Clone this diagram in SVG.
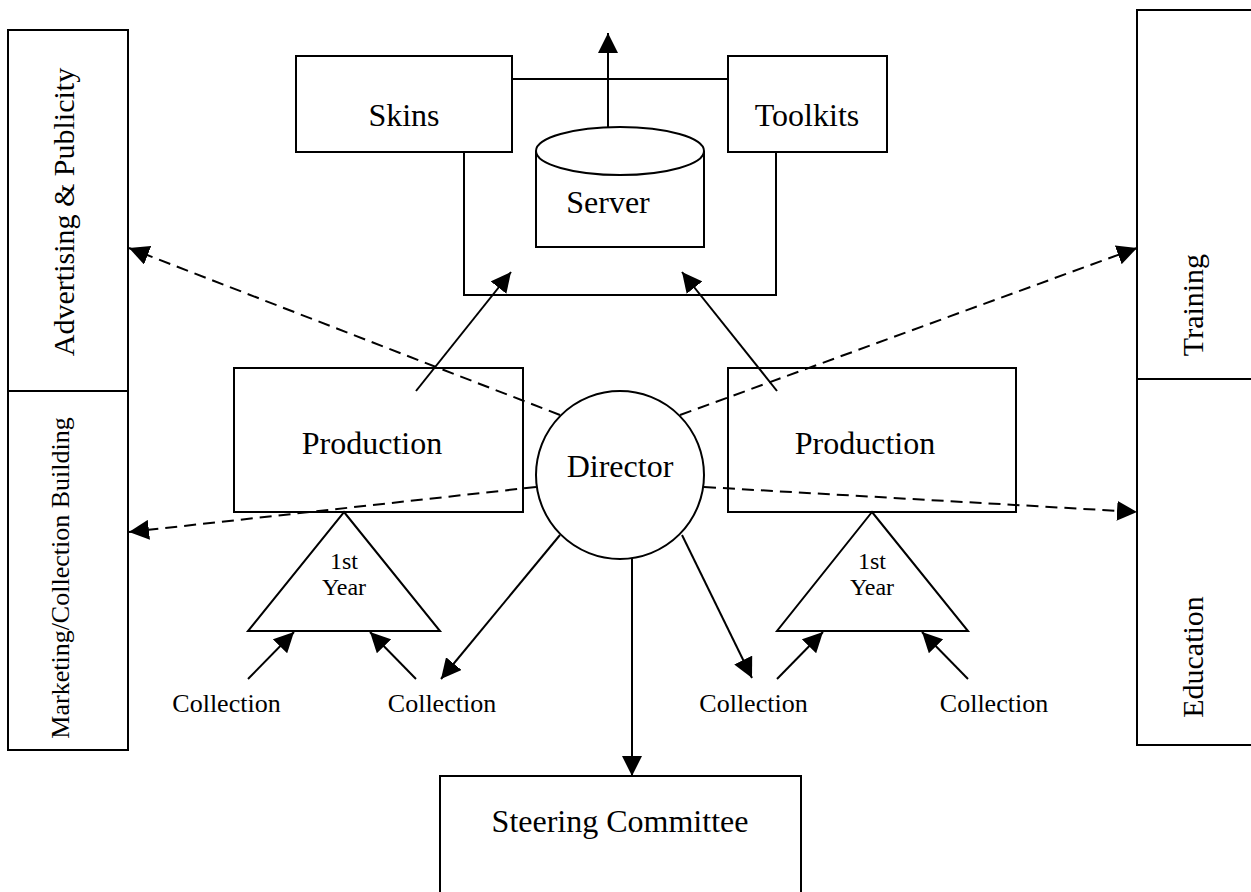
<svg xmlns="http://www.w3.org/2000/svg" width="1251" height="892" viewBox="0 0 1251 892">
<defs>
<marker id="ah" markerUnits="userSpaceOnUse" markerWidth="20" markerHeight="20" refX="20" refY="10" orient="auto">
<path d="M0,0 L20,10 L0,20 Z" fill="#000"/>
</marker>
<style>
.box{fill:#fff;stroke:#000;stroke-width:2}
.ln{fill:none;stroke:#000;stroke-width:2}
.ds{fill:none;stroke:#000;stroke-width:2;stroke-dasharray:12 7}
.t{font-family:"Liberation Serif","Times New Roman",serif;fill:#000;text-anchor:middle}
.big{font-size:32px}
.mid{font-size:26px}
.sm{font-size:24px}
</style>
</defs>
<rect width="1251" height="892" fill="#fff"/>

<g id="advertising">
<rect class="box" x="8" y="30" width="120" height="361"/>
<text class="t" font-size="30" transform="translate(74,212) rotate(-90)">Advertising &amp; Publicity</text>
</g>
<g id="marketing">
<rect class="box" x="8" y="391" width="120" height="359"/>
<text class="t mid" transform="translate(69,578) rotate(-90)">Marketing/Collection Building</text>
</g>
<g id="training">
<rect class="box" x="1137" y="10" width="130" height="369"/>
<text class="t" font-size="30" transform="translate(1203,305) rotate(-90)">Training</text>
</g>
<g id="education">
<rect class="box" x="1137" y="379" width="130" height="366"/>
<text class="t" font-size="30" transform="translate(1203,657) rotate(-90)">Education</text>
</g>

<g id="frame">
<path class="ln" d="M464,152 L464,295 L776,295 L776,152"/>
<line class="ln" x1="512" y1="79" x2="728" y2="79"/>
</g>
<g id="skins">
<rect class="box" x="296" y="56" width="216" height="96"/>
<text class="t big" x="404" y="126">Skins</text>
</g>
<g id="toolkits">
<rect class="box" x="728" y="56" width="159" height="96"/>
<text class="t big" x="807" y="126">Toolkits</text>
</g>
<g id="server">
<path class="box" d="M536,151 L536,247 L704,247 L704,151"/>
<ellipse class="box" cx="620" cy="151" rx="84" ry="24"/>
<text class="t big" x="608" y="213">Server</text>
</g>

<g id="production-left">
<rect class="box" x="234" y="368" width="289" height="144"/>
<text class="t big" x="372" y="454">Production</text>
</g>
<g id="production-right">
<rect class="box" x="728" y="368" width="288" height="144"/>
<text class="t big" x="865" y="454">Production</text>
</g>

<g id="year-left">
<path class="box" d="M344,512 L440,631 L248,631 Z"/>
<text class="t sm" x="344" y="569">1st</text>
<text class="t sm" x="344" y="595">Year</text>
</g>
<g id="year-right">
<path class="box" d="M872,512 L968,631 L777,631 Z"/>
<text class="t sm" x="872" y="569">1st</text>
<text class="t sm" x="872" y="595">Year</text>
</g>

<g id="connectors">
<line class="ln" x1="608" y1="127" x2="608" y2="33" marker-end="url(#ah)"/>
<line class="ln" x1="416" y1="391" x2="511" y2="272" marker-end="url(#ah)"/>
<line class="ln" x1="777" y1="391" x2="682" y2="272" marker-end="url(#ah)"/>
<line class="ds" x1="560" y1="415" x2="129" y2="248" marker-end="url(#ah)"/>
<line class="ds" x1="536" y1="487" x2="129" y2="532" marker-end="url(#ah)"/>
<line class="ds" x1="680" y1="415" x2="1137" y2="248" marker-end="url(#ah)"/>
<line class="ds" x1="704" y1="487" x2="1137" y2="512" marker-end="url(#ah)"/>
<line class="ln" x1="560" y1="535" x2="441" y2="679" marker-end="url(#ah)"/>
<line class="ln" x1="682" y1="535" x2="752" y2="678" marker-end="url(#ah)"/>
<line class="ln" x1="632" y1="558" x2="632" y2="776" marker-end="url(#ah)"/>
<line class="ln" x1="248" y1="679" x2="294" y2="632" marker-end="url(#ah)"/>
<line class="ln" x1="416" y1="679" x2="370" y2="632" marker-end="url(#ah)"/>
<line class="ln" x1="777" y1="679" x2="823" y2="632" marker-end="url(#ah)"/>
<line class="ln" x1="968" y1="679" x2="922" y2="632" marker-end="url(#ah)"/>
</g>

<g id="director">
<circle class="box" cx="620" cy="475" r="84"/>
<text class="t big" x="620" y="477">Director</text>
</g>

<g id="collections">
<text class="t mid" x="226.5" y="712">Collection</text>
<text class="t mid" x="442" y="712">Collection</text>
<text class="t mid" x="753.5" y="712">Collection</text>
<text class="t mid" x="994" y="712">Collection</text>
</g>

<g id="steering">
<rect class="box" x="440" y="776" width="361" height="130"/>
<text class="t big" x="620" y="832">Steering Committee</text>
</g>
</svg>
